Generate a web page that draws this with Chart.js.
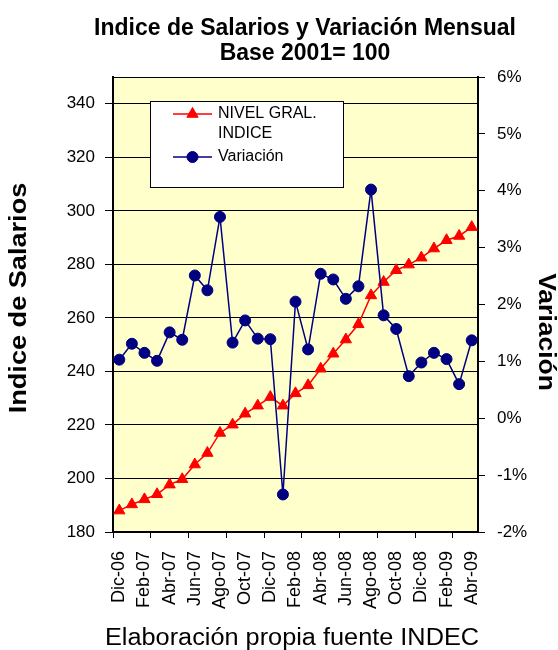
<!DOCTYPE html>
<html><head><meta charset="utf-8">
<script src="https://cdn.jsdelivr.net/npm/chart.js@4.4.1/dist/chart.umd.min.js"></script>
<style>html,body{margin:0;padding:0;background:#fff;}#wrap{width:558px;height:650px;}</style>
</head><body><div id="wrap"><canvas id="c" width="558" height="650"></canvas></div>
<script>
const months = ['Dic-06','Ene-07','Feb-07','Mar-07','Abr-07','May-07','Jun-07','Jul-07','Ago-07','Sep-07','Oct-07','Nov-07','Dic-07','Ene-08','Feb-08','Mar-08','Abr-08','May-08','Jun-08','Jul-08','Ago-08','Sep-08','Oct-08','Nov-08','Dic-08','Ene-09','Feb-09','Mar-09','Abr-09'];
const nivelGral = [188.0,190.3,192.2,194.1,197.7,199.7,205.2,209.5,217.0,220.1,224.2,227.2,230.4,227.2,231.8,234.8,241.0,246.6,251.9,257.6,268.4,273.4,277.8,279.9,282.5,285.9,289.0,290.6,293.9];
const variacion = [1.03,1.31,1.15,1.01,1.51,1.38,2.51,2.25,3.54,1.33,1.72,1.40,1.39,-1.34,2.05,1.21,2.54,2.44,2.10,2.32,4.02,1.81,1.57,0.74,0.98,1.15,1.04,0.60,1.37];
const titleLines = ['Indice de Salarios y Variación Mensual','Base 2001= 100'];
const leftAxisTitle = 'Indice de Salarios';
const rightAxisTitle = 'Variación';
const footerText = 'Elaboración propia fuente INDEC';
const legendLines = [['NIVEL GRAL.','INDICE'],['Variación']];

const FONT = '"Liberation Sans", Arial, Helvetica, sans-serif';
Chart.defaults.font.family = FONT;
Chart.defaults.color = '#000';

// draw centred text at (x,y), rotated by rot, stretched along its baseline by sx
function wideText(ctx, text, x, y, rot, sx) {
  ctx.save();
  ctx.translate(x, y);
  ctx.rotate(rot);
  ctx.scale(sx, 1);
  ctx.textAlign = 'center';
  ctx.textBaseline = 'middle';
  ctx.fillText(text, 0, 0);
  ctx.restore();
}

const decor = {
  id: 'decor',
  beforeDraw(chart) {
    const {ctx, chartArea: a} = chart;
    ctx.save();
    ctx.fillStyle = '#FFFFCC';
    ctx.fillRect(a.left, a.top, a.right - a.left, a.bottom - a.top);
    ctx.strokeStyle = '#000';
    ctx.lineWidth = 1;
    ctx.beginPath();
    ctx.moveTo(a.left, a.top + 0.5);
    ctx.lineTo(a.right, a.top + 0.5);
    ctx.stroke();
    ctx.restore();
  },
  afterDraw(chart) {
    const {ctx} = chart;
    ctx.save();
    ctx.fillStyle = '#000';
    ctx.font = 'bold 23px ' + FONT;
    wideText(ctx, titleLines[0], 305, 28.5, 0, 1);
    wideText(ctx, titleLines[1], 305, 53.5, 0, 1);
    ctx.font = '23px ' + FONT;
    wideText(ctx, footerText, 292, 639, 0, 1.1);
    ctx.font = 'bold 24px ' + FONT;
    wideText(ctx, leftAxisTitle, 19, 298, -Math.PI / 2, 1.13);
    ctx.font = 'bold 23px ' + FONT;
    wideText(ctx, rightAxisTitle, 545, 332, Math.PI / 2, 1.15);
    // legend
    const bx = 150.5, by = 101.5, bw = 193, bh = 86;
    ctx.fillStyle = '#fff';
    ctx.fillRect(bx, by, bw, bh);
    ctx.strokeStyle = '#000';
    ctx.lineWidth = 1;
    ctx.strokeRect(bx, by, bw, bh);
    const ds = chart.data.datasets;
    const rows = [114, 157];
    ctx.font = '16px ' + FONT;
    ctx.textAlign = 'left';
    ctx.textBaseline = 'middle';
    ds.forEach((d, i) => {
      const y = rows[i];
      ctx.strokeStyle = d.borderColor;
      ctx.lineWidth = 1.5;
      ctx.beginPath();
      ctx.moveTo(173, y);
      ctx.lineTo(212, y);
      ctx.stroke();
      ctx.fillStyle = d.pointBackgroundColor;
      ctx.strokeStyle = d.pointBorderColor;
      ctx.lineWidth = 1;
      Chart.helpers.drawPoint(ctx, {pointStyle: d.pointStyle, radius: d.pointRadius, borderWidth: 1, rotation: 0}, 192.5, y);
      ctx.fillStyle = '#000';
      legendLines[i].forEach((t, j) => ctx.fillText(t, 218, y + j * 20));
    });
    ctx.restore();
  }
};

new Chart(document.getElementById('c'), {
  type: 'line',
  data: {
    labels: months,
    datasets: [
      {
        label: 'NIVEL GRAL. INDICE',
        data: nivelGral,
        yAxisID: 'y',
        borderColor: '#FF0000',
        backgroundColor: '#FF0000',
        pointBackgroundColor: '#FF0000',
        pointBorderColor: '#FF0000',
        pointStyle: 'triangle',
        pointRadius: 6.5,
        pointBorderWidth: 1,
        borderWidth: 1.5,
        tension: 0,
        order: 1
      },
      {
        label: 'Variación',
        data: variacion,
        yAxisID: 'y1',
        borderColor: '#000080',
        backgroundColor: '#000080',
        pointBackgroundColor: '#000080',
        pointBorderColor: '#000080',
        pointStyle: 'circle',
        pointRadius: 5.5,
        pointBorderWidth: 1,
        borderWidth: 1.5,
        tension: 0,
        order: 0
      }
    ]
  },
  options: {
    responsive: false,
    animation: false,
    devicePixelRatio: 1,
    layout: {padding: {top: 77, left: 0, right: 0, bottom: 0}},
    plugins: {legend: {display: false}, tooltip: {enabled: false}, title: {display: false}},
    scales: {
      x: {
        offset: true,
        afterFit(s) { s.height = 118; },
        grid: {
          offset: true,
          drawOnChartArea: false,
          drawTicks: true,
          tickLength: 6,
          tickWidth: 1,
          tickColor: (c) => (c.index % 3 === 0 ? '#000' : 'rgba(0,0,0,0)')
        },
        border: {display: true, color: '#000', width: 2},
        ticks: {
          autoSkip: false,
          maxRotation: 90,
          minRotation: 90,
          padding: 13,
          font: {size: 18},
          callback: (v, i) => (i % 2 === 0 ? months[i] : '')
        }
      },
      y: {
        position: 'left',
        min: 180,
        max: 350,
        afterFit(s) { s.width = 113; },
        ticks: {stepSize: 20, includeBounds: false, padding: 10, font: {size: 17}},
        grid: {color: '#000', lineWidth: 1, tickLength: 8, tickColor: '#000'},
        border: {display: true, color: '#000', width: 2}
      },
      y1: {
        position: 'right',
        min: -2,
        max: 6,
        afterFit(s) { s.width = 80; },
        ticks: {stepSize: 1, padding: 12, font: {size: 17}, callback: (v) => v + '%'},
        grid: {drawOnChartArea: false, tickLength: 7, tickColor: '#000'},
        border: {display: true, color: '#000', width: 2}
      }
    }
  },
  plugins: [decor]
});
</script></body></html>
